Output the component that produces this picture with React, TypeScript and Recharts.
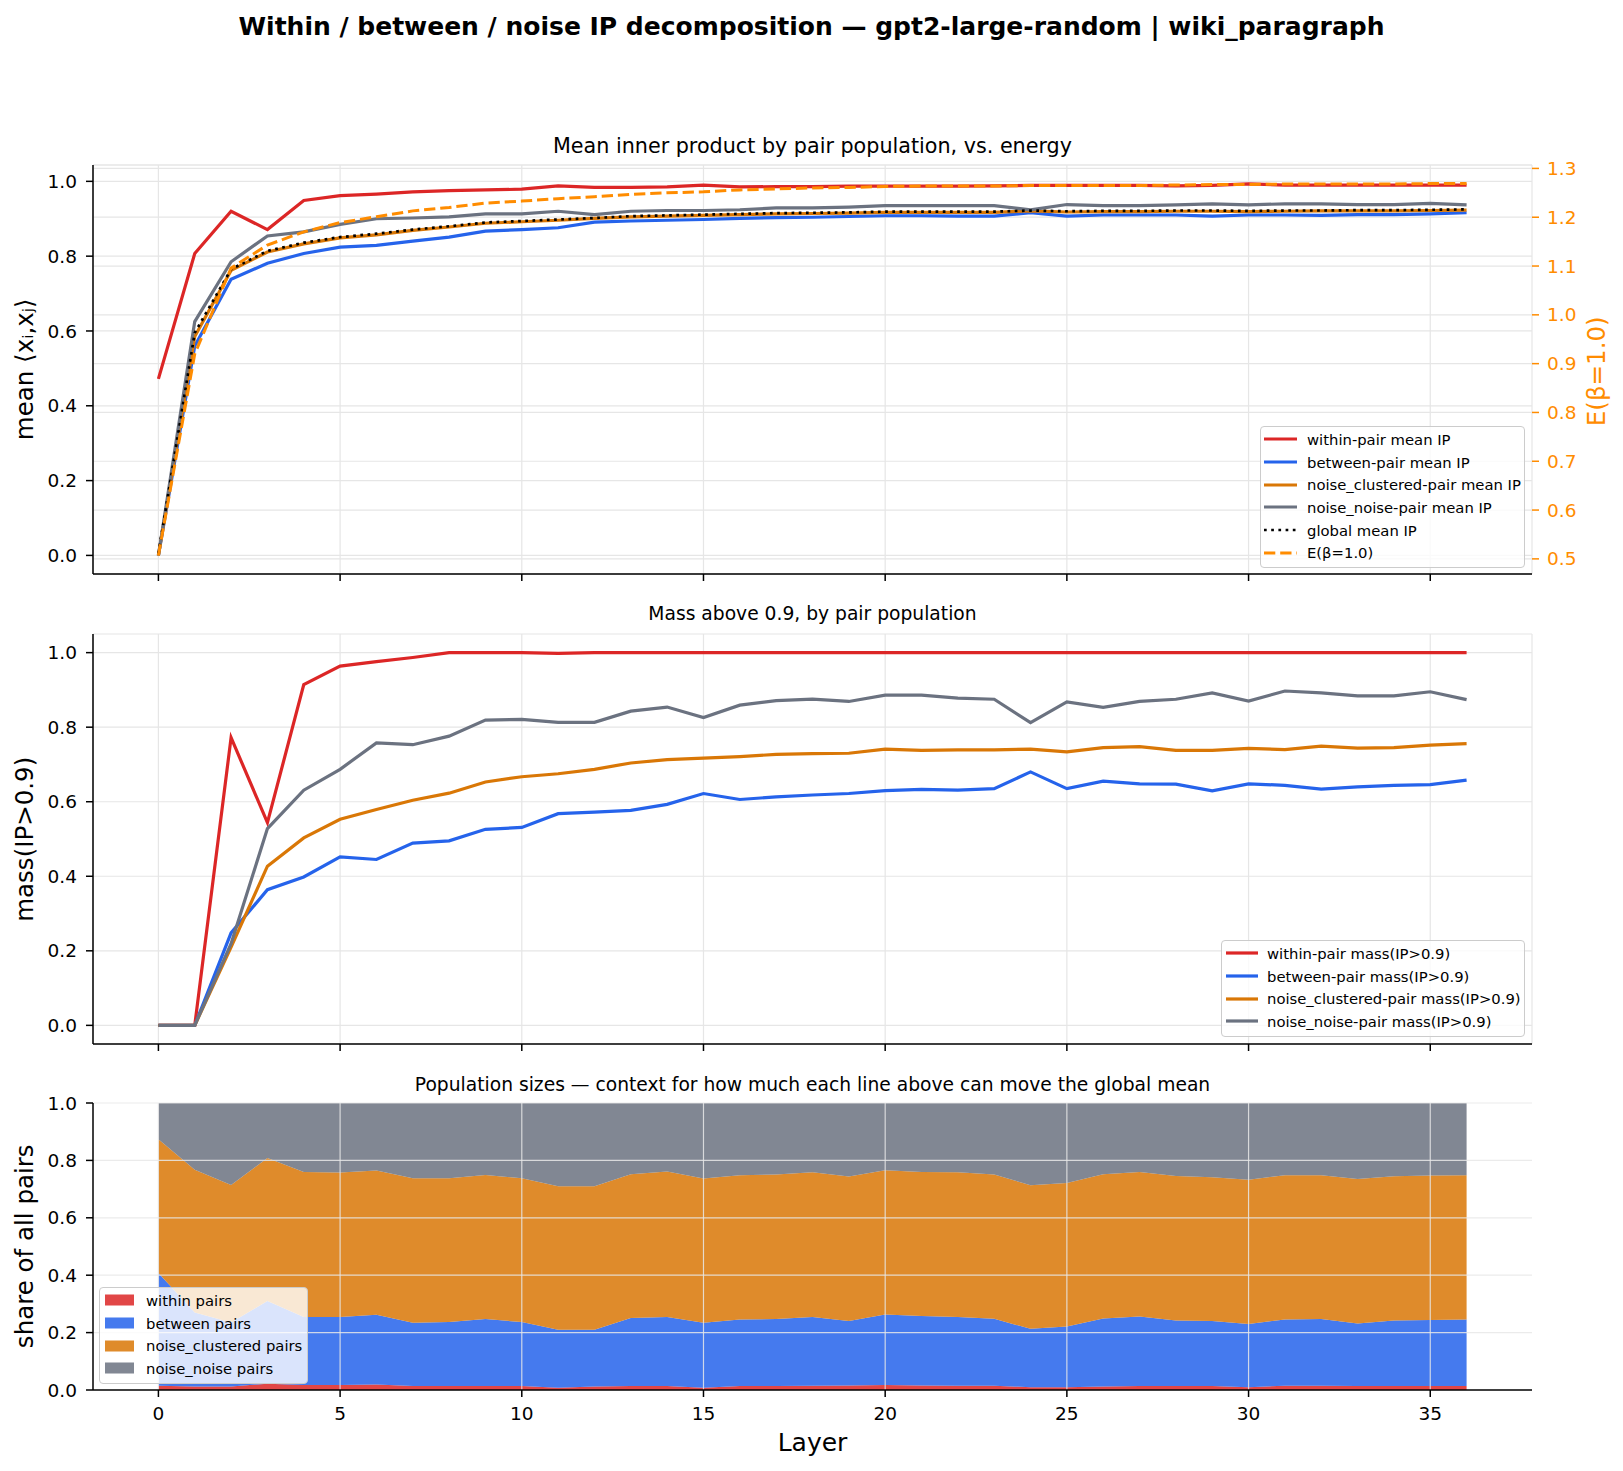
import React from 'react'
import { ComposedChart, Line, Area, XAxis, YAxis, CartesianGrid, ReferenceLine } from 'recharts'

// layer index (x axis) shared by all three panels
const layers = [0, 1, 2, 3, 4, 5, 6, 7, 8, 9, 10, 11, 12, 13, 14, 15, 16, 17, 18, 19, 20, 21, 22, 23, 24, 25, 26, 27, 28, 29, 30, 31, 32, 33, 34, 35, 36]

// panel 1: mean inner product per pair population
const withinIP = [0.472, 0.807, 0.92, 0.871, 0.949, 0.962, 0.966, 0.972, 0.975, 0.977, 0.979, 0.988, 0.984, 0.984, 0.985, 0.99, 0.985, 0.986, 0.986, 0.987, 0.987, 0.987, 0.987, 0.988, 0.989, 0.989, 0.989, 0.989, 0.988, 0.989, 0.993, 0.99, 0.99, 0.99, 0.99, 0.99, 0.99]
const betweenIP = [0.0, 0.56, 0.738, 0.781, 0.807, 0.824, 0.829, 0.84, 0.851, 0.867, 0.871, 0.876, 0.891, 0.894, 0.896, 0.898, 0.901, 0.903, 0.904, 0.906, 0.908, 0.908, 0.907, 0.907, 0.916, 0.907, 0.91, 0.91, 0.91, 0.907, 0.91, 0.91, 0.909, 0.911, 0.911, 0.913, 0.916]
const noiseClusteredIP = [0.0, 0.585, 0.762, 0.811, 0.833, 0.849, 0.857, 0.869, 0.878, 0.888, 0.892, 0.896, 0.901, 0.905, 0.907, 0.909, 0.911, 0.913, 0.914, 0.915, 0.917, 0.917, 0.917, 0.917, 0.921, 0.918, 0.919, 0.919, 0.92, 0.92, 0.919, 0.92, 0.921, 0.921, 0.921, 0.922, 0.923]
const noiseNoiseIP = [0.0, 0.625, 0.785, 0.854, 0.865, 0.885, 0.9, 0.902, 0.905, 0.913, 0.913, 0.92, 0.911, 0.92, 0.922, 0.922, 0.924, 0.929, 0.929, 0.931, 0.935, 0.935, 0.935, 0.935, 0.924, 0.938, 0.935, 0.935, 0.937, 0.94, 0.937, 0.94, 0.94, 0.938, 0.938, 0.941, 0.937]
const globalIP = [0.005, 0.595, 0.765, 0.814, 0.836, 0.851, 0.86, 0.871, 0.88, 0.89, 0.894, 0.898, 0.902, 0.907, 0.909, 0.911, 0.913, 0.915, 0.916, 0.917, 0.919, 0.919, 0.919, 0.919, 0.922, 0.92, 0.921, 0.921, 0.922, 0.922, 0.921, 0.922, 0.922, 0.923, 0.923, 0.924, 0.925]
const energy = [0.507, 0.92, 1.096, 1.143, 1.17, 1.189, 1.201, 1.213, 1.22, 1.229, 1.233, 1.238, 1.242, 1.247, 1.25, 1.252, 1.256, 1.258, 1.26, 1.261, 1.263, 1.264, 1.264, 1.264, 1.265, 1.265, 1.265, 1.265, 1.266, 1.267, 1.267, 1.268, 1.268, 1.268, 1.268, 1.269, 1.269]

// panel 2: mass above 0.9
const withinMass = [0, 0, 0.772, 0.544, 0.914, 0.964, 0.976, 0.987, 1.0, 1.0, 1.0, 0.998, 1.0, 1.0, 1.0, 1.0, 1.0, 1.0, 1.0, 1.0, 1.0, 1.0, 1.0, 1.0, 1.0, 1.0, 1.0, 1.0, 1.0, 1.0, 1.0, 1.0, 1.0, 1.0, 1.0, 1.0, 1.0]
const betweenMass = [0, 0, 0.248, 0.364, 0.398, 0.452, 0.445, 0.489, 0.495, 0.526, 0.531, 0.568, 0.572, 0.577, 0.593, 0.622, 0.606, 0.613, 0.618, 0.622, 0.63, 0.633, 0.631, 0.635, 0.68, 0.635, 0.655, 0.648, 0.647, 0.629, 0.648, 0.644, 0.634, 0.64, 0.644, 0.646, 0.658]
const noiseClusteredMass = [0, 0, 0.21, 0.427, 0.503, 0.553, 0.579, 0.604, 0.623, 0.653, 0.667, 0.675, 0.687, 0.704, 0.713, 0.717, 0.721, 0.727, 0.729, 0.73, 0.741, 0.738, 0.739, 0.739, 0.741, 0.734, 0.745, 0.748, 0.738, 0.738, 0.743, 0.74, 0.749, 0.744, 0.745, 0.752, 0.756]
const noiseNoiseMass = [0, 0, 0.219, 0.528, 0.631, 0.687, 0.758, 0.753, 0.776, 0.819, 0.821, 0.813, 0.813, 0.843, 0.854, 0.826, 0.859, 0.871, 0.875, 0.869, 0.886, 0.886, 0.878, 0.875, 0.812, 0.868, 0.853, 0.869, 0.875, 0.892, 0.87, 0.897, 0.892, 0.884, 0.884, 0.895, 0.874]

// panel 3: share of all pairs
const withinShare = [0.015, 0.012, 0.012, 0.022, 0.017, 0.017, 0.019, 0.014, 0.014, 0.014, 0.014, 0.008, 0.012, 0.014, 0.014, 0.008, 0.014, 0.014, 0.015, 0.016, 0.017, 0.016, 0.015, 0.015, 0.01, 0.01, 0.012, 0.014, 0.014, 0.014, 0.01, 0.015, 0.015, 0.014, 0.014, 0.014, 0.014]
const betweenShare = [0.393, 0.258, 0.223, 0.288, 0.237, 0.237, 0.243, 0.22, 0.223, 0.233, 0.223, 0.202, 0.198, 0.237, 0.24, 0.226, 0.232, 0.233, 0.239, 0.224, 0.246, 0.242, 0.239, 0.233, 0.203, 0.211, 0.237, 0.242, 0.228, 0.226, 0.22, 0.231, 0.232, 0.218, 0.228, 0.23, 0.232]
const noiseClusteredShare = [0.466, 0.497, 0.479, 0.498, 0.506, 0.504, 0.503, 0.504, 0.501, 0.502, 0.501, 0.5, 0.5, 0.501, 0.507, 0.503, 0.502, 0.504, 0.505, 0.504, 0.503, 0.502, 0.505, 0.503, 0.5, 0.5, 0.503, 0.504, 0.504, 0.501, 0.503, 0.502, 0.501, 0.503, 0.503, 0.503, 0.502]
const noiseNoiseShare = [0.126, 0.233, 0.286, 0.192, 0.24, 0.242, 0.235, 0.262, 0.262, 0.251, 0.262, 0.29, 0.29, 0.248, 0.239, 0.263, 0.252, 0.249, 0.241, 0.256, 0.234, 0.24, 0.241, 0.249, 0.287, 0.279, 0.248, 0.24, 0.254, 0.259, 0.267, 0.252, 0.252, 0.265, 0.255, 0.253, 0.252]

const xTicks = [0, 5, 10, 15, 20, 25, 30, 35]
const unitTicks = [0, 0.2, 0.4, 0.6, 0.8, 1.0]
const energyTicks = [0.5, 0.6, 0.7, 0.8, 0.9, 1.0, 1.1, 1.2, 1.3]
const gridRows = [0.2, 0.4, 0.6, 0.8, 1.0]

const ipRows = layers.map((layer, i) => ({
  layer,
  within: withinIP[i],
  between: betweenIP[i],
  noiseClustered: noiseClusteredIP[i],
  noiseNoise: noiseNoiseIP[i],
  global: globalIP[i],
  energy: energy[i],
}))
const massRows = layers.map((layer, i) => ({
  layer,
  within: withinMass[i],
  between: betweenMass[i],
  noiseClustered: noiseClusteredMass[i],
  noiseNoise: noiseNoiseMass[i],
}))
const shareRows = layers.map((layer, i) => ({
  layer,
  within: withinShare[i],
  between: betweenShare[i],
  noiseClustered: noiseClusteredShare[i],
  noiseNoise: noiseNoiseShare[i],
}))

const FONT = '"DejaVu Sans", sans-serif'
const RED = '#dc2626'
const BLUE = '#2563eb'
const ORANGE = '#d97706'
const GRAY = '#6b7280'
const DARKORANGE = '#ff8c00'
const GRID = '#e6e6e6'

const W = 1623
const PAD = 16 // room above each plot so the top tick label is not clipped
const X_DOMAIN: [number, number] = [-1.8, 37.8]
const tickText = { fill: '#000', fontSize: 18.5, fontFamily: FONT }
const spine = { stroke: '#000', strokeWidth: 1.5 }
const fmt1 = (v: number) => v.toFixed(1)

type LegendItem = { label: string; color: string; dash?: string; width?: number; patch?: boolean }

function LegendBox({ items, left, top, width, padLeft, handle, gap }: {
  items: LegendItem[]; left: number; top: number; width: number; padLeft: number; handle: number; gap: number
}) {
  return (
    <div style={{
      position: 'absolute', left, top, width, boxSizing: 'border-box',
      background: 'rgba(255,255,255,0.8)', border: '1px solid #cccccc', borderRadius: 4,
      padding: `1px 0 3px ${padLeft}px`, fontFamily: FONT, fontSize: 14.8, color: '#000',
    }}>
      {items.map(it => (
        <div key={it.label} style={{ display: 'flex', alignItems: 'center', height: 22.7, whiteSpace: 'nowrap' }}>
          <svg width={handle} height={12} style={{ marginRight: gap, flex: 'none' }}>
            {it.patch ? (
              <rect x={0} y={0.5} width={handle} height={11} fill={it.color} fillOpacity={0.85} />
            ) : (
              <line x1={0} x2={handle} y1={6} y2={6} stroke={it.color} strokeWidth={it.width ?? 3.2} strokeDasharray={it.dash} />
            )}
          </svg>
          <span>{it.label}</span>
        </div>
      ))}
    </div>
  )
}

function Text({ children, cx, capMid, size, bold, color, rotate }: {
  children: React.ReactNode; cx: number; capMid: number; size: number; bold?: boolean; color?: string; rotate?: boolean
}) {
  if (rotate) {
    return (
      <div style={{
        position: 'absolute', left: cx - 200, top: capMid - size * 0.582, width: 400, textAlign: 'center',
        fontFamily: FONT, fontSize: size, lineHeight: 1.164, color: color ?? '#000',
        transform: 'rotate(-90deg)', whiteSpace: 'nowrap',
      }}>{children}</div>
    )
  }
  return (
    <div style={{
      position: 'absolute', left: cx - 800, top: capMid - size * 0.563, width: 1600, textAlign: 'center',
      fontFamily: FONT, fontSize: size, lineHeight: 1.164, fontWeight: bold ? 'bold' : 'normal',
      color: color ?? '#000', whiteSpace: 'nowrap',
    }}>{children}</div>
  )
}

function MeanPanel() {
  return (
    <ComposedChart width={W} height={419 + PAD} data={ipRows} margin={{ top: PAD, right: 0, bottom: 0, left: 0 }}>
      <CartesianGrid yAxisId="ip" stroke={GRID} strokeWidth={1.2} />
      <CartesianGrid yAxisId="energy" vertical={false} stroke={GRID} strokeWidth={1.2} />
      <XAxis dataKey="layer" type="number" domain={X_DOMAIN} ticks={xTicks} interval={0} height={10}
        tickFormatter={() => ''} tickSize={7} axisLine={spine} tickLine={spine} />
      <YAxis yAxisId="ip" domain={[-0.0497, 1.0437]} ticks={unitTicks} interval={0} width={93}
        tickFormatter={fmt1} tick={tickText} tickSize={7} tickMargin={9} axisLine={spine} tickLine={spine} />
      <YAxis yAxisId="energy" orientation="right" domain={[0.469, 1.307]} ticks={energyTicks} interval={0} width={91}
        tickFormatter={fmt1} tick={{ ...tickText, fill: DARKORANGE }} tickSize={7} tickMargin={8}
        axisLine={false} tickLine={{ stroke: DARKORANGE, strokeWidth: 1.5 }} />
      <Line yAxisId="ip" type="linear" dataKey="within" stroke={RED} strokeWidth={3.2} dot={false} isAnimationActive={false} />
      <Line yAxisId="ip" type="linear" dataKey="between" stroke={BLUE} strokeWidth={3.2} dot={false} isAnimationActive={false} />
      <Line yAxisId="ip" type="linear" dataKey="noiseClustered" stroke={ORANGE} strokeWidth={3.2} dot={false} isAnimationActive={false} />
      <Line yAxisId="ip" type="linear" dataKey="noiseNoise" stroke={GRAY} strokeWidth={3.2} dot={false} isAnimationActive={false} />
      <Line yAxisId="ip" type="linear" dataKey="global" stroke="#000" strokeWidth={2.7} strokeDasharray="2.7 4.5" dot={false} isAnimationActive={false} />
      <Line yAxisId="energy" type="linear" dataKey="energy" stroke={DARKORANGE} strokeWidth={3} strokeDasharray="11.3 4.9" dot={false} isAnimationActive={false} />
    </ComposedChart>
  )
}

function MassPanel() {
  return (
    <ComposedChart width={W} height={420 + PAD} data={massRows} margin={{ top: PAD, right: 91, bottom: 0, left: 0 }}>
      <CartesianGrid stroke={GRID} strokeWidth={1.2} />
      <XAxis dataKey="layer" type="number" domain={X_DOMAIN} ticks={xTicks} interval={0} height={10}
        tickFormatter={() => ''} tickSize={7} axisLine={spine} tickLine={spine} />
      <YAxis domain={[-0.05, 1.05]} ticks={unitTicks} interval={0} width={93}
        tickFormatter={fmt1} tick={tickText} tickSize={7} tickMargin={9} axisLine={spine} tickLine={spine} />
      <Line type="linear" dataKey="within" stroke={RED} strokeWidth={3.2} dot={false} isAnimationActive={false} />
      <Line type="linear" dataKey="between" stroke={BLUE} strokeWidth={3.2} dot={false} isAnimationActive={false} />
      <Line type="linear" dataKey="noiseClustered" stroke={ORANGE} strokeWidth={3.2} dot={false} isAnimationActive={false} />
      <Line type="linear" dataKey="noiseNoise" stroke={GRAY} strokeWidth={3.2} dot={false} isAnimationActive={false} />
    </ComposedChart>
  )
}

function SharePanel() {
  return (
    <ComposedChart width={W} height={327 + PAD} data={shareRows} margin={{ top: PAD, right: 91, bottom: 0, left: 0 }}>
      <XAxis dataKey="layer" type="number" domain={X_DOMAIN} ticks={xTicks} interval={0} height={40}
        tick={tickText} tickSize={7} tickMargin={10} axisLine={spine} tickLine={spine} />
      <YAxis domain={[0, 1]} ticks={unitTicks} interval={0} width={93}
        tickFormatter={fmt1} tick={tickText} tickSize={7} tickMargin={9} axisLine={spine} tickLine={spine} />
      <Area type="linear" dataKey="within" stackId="pop" fill={RED} fillOpacity={0.85} stroke="none" isAnimationActive={false} />
      <Area type="linear" dataKey="between" stackId="pop" fill={BLUE} fillOpacity={0.85} stroke="none" isAnimationActive={false} />
      <Area type="linear" dataKey="noiseClustered" stackId="pop" fill={ORANGE} fillOpacity={0.85} stroke="none" isAnimationActive={false} />
      <Area type="linear" dataKey="noiseNoise" stackId="pop" fill={GRAY} fillOpacity={0.85} stroke="none" isAnimationActive={false} />
      {xTicks.map(x => (
        <ReferenceLine key={`vx${x}`} x={x} stroke="#e8e8e8" strokeOpacity={0.85} strokeWidth={1.2} />
      ))}
      {gridRows.map(y => (
        <ReferenceLine key={`hy${y}`} y={y} stroke="#e8e8e8" strokeOpacity={0.85} strokeWidth={1.2} />
      ))}
    </ComposedChart>
  )
}

const meanLegend: LegendItem[] = [
  { label: 'within-pair mean IP', color: RED },
  { label: 'between-pair mean IP', color: BLUE },
  { label: 'noise_clustered-pair mean IP', color: ORANGE },
  { label: 'noise_noise-pair mean IP', color: GRAY },
  { label: 'global mean IP', color: '#000', width: 2.7, dash: '2.7 4.5' },
  { label: 'E(β=1.0)', color: DARKORANGE, width: 3, dash: '11.3 4.9' },
]
const massLegend: LegendItem[] = [
  { label: 'within-pair mass(IP>0.9)', color: RED },
  { label: 'between-pair mass(IP>0.9)', color: BLUE },
  { label: 'noise_clustered-pair mass(IP>0.9)', color: ORANGE },
  { label: 'noise_noise-pair mass(IP>0.9)', color: GRAY },
]
const shareLegend: LegendItem[] = [
  { label: 'within pairs', color: RED, patch: true },
  { label: 'between pairs', color: BLUE, patch: true },
  { label: 'noise_clustered pairs', color: ORANGE, patch: true },
  { label: 'noise_noise pairs', color: GRAY, patch: true },
]

export default function App() {
  return (
    <div style={{ position: 'relative', width: W, height: 1471, background: '#fff', overflow: 'hidden' }}>
      <style>{'body{margin:0}'}</style>

      <Text cx={811.5} capMid={25.8} size={25} bold>
        Within / between / noise IP decomposition — gpt2-large-random | wiki_paragraph
      </Text>

      <Text cx={812.5} capMid={145.2} size={20.7}>Mean inner product by pair population, vs. energy</Text>
      <div style={{ position: 'absolute', left: 0, top: 165 - PAD }}><MeanPanel /></div>
      <Text cx={24.5} capMid={369.5} size={24.5} rotate>mean ⟨xᵢ,xⱼ⟩</Text>
      <Text cx={1597} capMid={371} size={24.5} color={DARKORANGE} rotate>E(β=1.0)</Text>
      <LegendBox items={meanLegend} left={1260} top={426} width={265} padLeft={3} handle={33} gap={10} />

      <Text cx={812.5} capMid={614} size={18.7}>Mass above 0.9, by pair population</Text>
      <div style={{ position: 'absolute', left: 0, top: 634 - PAD }}><MassPanel /></div>
      <Text cx={24.5} capMid={839} size={24.5} rotate>mass(IP&gt;0.9)</Text>
      <LegendBox items={massLegend} left={1221} top={940} width={304} padLeft={4} handle={32} gap={9} />

      <Text cx={812.5} capMid={1085} size={18.7}>
        Population sizes — context for how much each line above can move the global mean
      </Text>
      <div style={{ position: 'absolute', left: 0, top: 1103 - PAD }}><SharePanel /></div>
      <Text cx={24.5} capMid={1246.5} size={24.5} rotate>share of all pairs</Text>
      <LegendBox items={shareLegend} left={99} top={1287} width={209} padLeft={5} handle={29} gap={12} />

      <Text cx={812.5} capMid={1442.3} size={25}>Layer</Text>
    </div>
  )
}
